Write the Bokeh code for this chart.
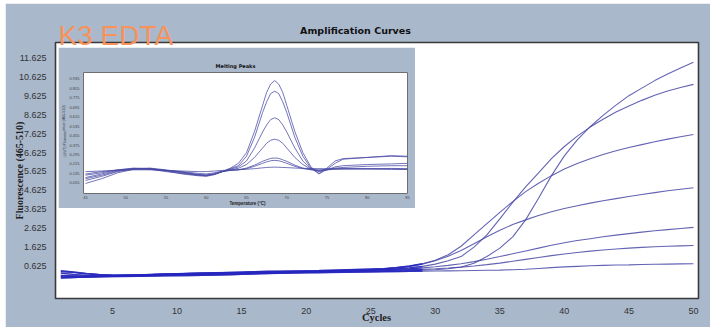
from bokeh.plotting import figure
from bokeh.models import FixedTicker, PrintfTickFormatter, Range1d
from bokeh.embed import file_html
from bokeh.resources import INLINE
from bokeh.core.properties import value

# ---------------- data: amplification curves ----------------
cycles = list(range(1, 51))
curve_a = [0.10, 0.08, 0.05, 0.04, 0.05, 0.07, 0.09, 0.11, 0.13, 0.15,
           0.17, 0.18, 0.19, 0.20, 0.21, 0.22, 0.23, 0.24, 0.25, 0.26,
           0.27, 0.28, 0.29, 0.30, 0.31, 0.32, 0.33, 0.35, 0.37, 0.40,
           0.45, 0.55, 0.75, 1.10, 1.55, 2.15, 3.05, 4.20, 5.40, 6.45,
           7.30, 8.00, 8.60, 9.15, 9.65, 10.05, 10.45, 10.80, 11.12, 11.42]
curve_b = [0.30, 0.25, 0.18, 0.14, 0.12, 0.12, 0.13, 0.15, 0.17, 0.19,
           0.21, 0.22, 0.23, 0.24, 0.25, 0.26, 0.27, 0.28, 0.29, 0.30,
           0.31, 0.32, 0.33, 0.35, 0.37, 0.40, 0.44, 0.50, 0.58, 0.70,
           0.88, 1.10, 1.60, 2.25, 3.10, 3.98, 4.80, 5.55, 6.30, 6.95,
           7.50, 7.98, 8.40, 8.78, 9.10, 9.40, 9.67, 9.90, 10.08, 10.25]
curve_c = [0.22, 0.15, 0.10, 0.08, 0.09, 0.11, 0.13, 0.15, 0.17, 0.19,
           0.20, 0.21, 0.22, 0.23, 0.25, 0.27, 0.28, 0.29, 0.30, 0.31,
           0.32, 0.34, 0.36, 0.38, 0.41, 0.45, 0.52, 0.60, 0.72, 0.90,
           1.20, 1.65, 2.25, 2.85, 3.45, 4.02, 4.55, 5.00, 5.40, 5.75,
           6.05, 6.30, 6.52, 6.72, 6.90, 7.05, 7.20, 7.34, 7.47, 7.59]
curve_d = [-0.05, -0.02, 0.02, 0.05, 0.08, 0.10, 0.12, 0.14, 0.16, 0.18,
           0.20, 0.22, 0.24, 0.26, 0.28, 0.30, 0.32, 0.33, 0.34, 0.35,
           0.36, 0.38, 0.40, 0.42, 0.44, 0.46, 0.50, 0.58, 0.70, 0.88,
           1.12, 1.42, 1.78, 2.15, 2.50, 2.80, 3.05, 3.28, 3.48, 3.65,
           3.80, 3.94, 4.07, 4.18, 4.29, 4.40, 4.50, 4.60, 4.68, 4.76]
curve_e = [0.05, 0.04, 0.04, 0.05, 0.06, 0.08, 0.10, 0.12, 0.13, 0.14,
           0.15, 0.16, 0.17, 0.19, 0.21, 0.23, 0.25, 0.27, 0.29, 0.31,
           0.33, 0.35, 0.37, 0.39, 0.41, 0.42, 0.43, 0.45, 0.50, 0.56,
           0.63, 0.72, 0.83, 0.96, 1.10, 1.25, 1.40, 1.55, 1.70, 1.83,
           1.95, 2.05, 2.15, 2.24, 2.32, 2.40, 2.47, 2.53, 2.59, 2.65]
curve_f = [0.35, 0.28, 0.20, 0.14, 0.10, 0.08, 0.08, 0.09, 0.10, 0.11,
           0.12, 0.13, 0.14, 0.16, 0.18, 0.20, 0.22, 0.24, 0.26, 0.28,
           0.30, 0.31, 0.32, 0.33, 0.34, 0.35, 0.37, 0.40, 0.42, 0.45,
           0.49, 0.54, 0.60, 0.67, 0.75, 0.85, 0.95, 1.05, 1.15, 1.24,
           1.32, 1.39, 1.45, 1.50, 1.55, 1.59, 1.62, 1.65, 1.67, 1.69]
curve_g = [0.00, 0.00, 0.01, 0.02, 0.03, 0.04, 0.05, 0.06, 0.07, 0.08,
           0.09, 0.10, 0.11, 0.13, 0.15, 0.17, 0.19, 0.21, 0.22, 0.23,
           0.24, 0.25, 0.26, 0.27, 0.28, 0.29, 0.30, 0.31, 0.32, 0.33,
           0.34, 0.35, 0.36, 0.37, 0.38, 0.40, 0.43, 0.47, 0.51, 0.55,
           0.58, 0.61, 0.63, 0.65, 0.66, 0.68, 0.69, 0.70, 0.71, 0.72]
cycle_ticks = [5, 10, 15, 20, 25, 30, 35, 40, 45, 50]
fluor_ticks = [0.625, 1.625, 2.625, 3.625, 4.625, 5.625, 6.625, 7.625, 8.625, 9.625, 10.625, 11.625]

# ---------------- data: melting peaks (inset) ----------------
temps = [45, 47, 49, 51, 53, 55, 57, 59, 60, 61, 62, 63, 64, 65, 66, 67, 67.5,
         68, 68.5, 69, 69.5, 70, 71, 72, 73, 74, 75, 76, 77, 80, 83, 85]
peak_1 = [0.05, 0.09, 0.14, 0.17, 0.175, 0.16, 0.14, 0.12, 0.115, 0.125, 0.15, 0.18, 0.22, 0.31, 0.49, 0.71, 0.82,
          0.89, 0.92, 0.89, 0.82, 0.71, 0.49, 0.31, 0.19, 0.135, 0.18, 0.24, 0.26, 0.27, 0.28, 0.275]
peak_2 = [0.075, 0.11, 0.15, 0.175, 0.18, 0.165, 0.145, 0.125, 0.12, 0.13, 0.15, 0.175, 0.20, 0.28, 0.44, 0.65, 0.74,
          0.81, 0.83, 0.81, 0.74, 0.65, 0.44, 0.28, 0.18, 0.13, 0.17, 0.22, 0.255, 0.27, 0.285, 0.28]
peak_3 = [0.10, 0.13, 0.16, 0.175, 0.175, 0.155, 0.13, 0.115, 0.11, 0.125, 0.15, 0.17, 0.19, 0.24, 0.35, 0.485, 0.545,
          0.59, 0.605, 0.59, 0.545, 0.485, 0.35, 0.24, 0.175, 0.15, 0.165, 0.19, 0.20, 0.21, 0.215, 0.22]
peak_4 = [0.12, 0.14, 0.165, 0.18, 0.175, 0.16, 0.145, 0.125, 0.12, 0.13, 0.15, 0.165, 0.178, 0.21, 0.27, 0.35, 0.39,
          0.415, 0.424, 0.415, 0.39, 0.35, 0.27, 0.21, 0.17, 0.155, 0.165, 0.18, 0.185, 0.195, 0.20, 0.20]
peak_5 = [0.09, 0.12, 0.155, 0.17, 0.17, 0.15, 0.135, 0.12, 0.12, 0.13, 0.15, 0.16, 0.166, 0.18, 0.205, 0.237, 0.25,
          0.262, 0.265, 0.262, 0.25, 0.237, 0.205, 0.18, 0.165, 0.16, 0.165, 0.17, 0.172, 0.175, 0.177, 0.175]
peak_6 = [0.13, 0.15, 0.165, 0.175, 0.17, 0.16, 0.15, 0.135, 0.13, 0.14, 0.155, 0.16, 0.165, 0.175, 0.195, 0.22, 0.232,
          0.242, 0.245, 0.242, 0.232, 0.22, 0.195, 0.175, 0.168, 0.165, 0.17, 0.172, 0.173, 0.172, 0.17, 0.168]
peak_7 = [0.15, 0.155, 0.16, 0.165, 0.165, 0.16, 0.155, 0.15, 0.15, 0.155, 0.16, 0.163, 0.166, 0.17, 0.175, 0.182, 0.185,
          0.187, 0.188, 0.187, 0.185, 0.184, 0.18, 0.178, 0.176, 0.175, 0.175, 0.175, 0.176, 0.174, 0.172, 0.17]
temp_ticks = [45, 50, 55, 60, 65, 70, 75, 80, 85]
deriv_ticks = [0.935, 0.855, 0.775, 0.695, 0.615, 0.535, 0.455, 0.375, 0.295, 0.215, 0.135, 0.055]

# ---------------- style ----------------
PANEL = "#aab8cc"
LINE = "#4848a6"
BASE_LINE = "#2626c2"
PAGE_W, PAGE_H = 714, 327

# ---------------- main chart ----------------
p = figure(width=705, height=324, x_range=Range1d(0.585, 50.39), y_range=Range1d(-1.128, 12.475),
           output_backend="svg", toolbar_location=None,
           min_border_left=50, min_border_right=12, min_border_top=39, min_border_bottom=29,
           background_fill_color="white", border_fill_color=PANEL,
           outline_line_color="#3a3a3a", outline_line_width=1.6,
           margin=(3, 4, 0, 5))
p.grid.visible = False
for ax in (p.xaxis[0], p.yaxis[0]):
    ax.axis_line_color = None
    ax.major_tick_line_color = None
    ax.minor_tick_line_color = None
    ax.major_label_standoff = 3
    ax.major_label_text_font = "Liberation Sans"
    ax.major_label_text_font_size = "9px"
    ax.major_label_text_color = "#333333"
p.xaxis.ticker = FixedTicker(ticks=cycle_ticks)
p.yaxis.ticker = FixedTicker(ticks=fluor_ticks)
p.yaxis.formatter = PrintfTickFormatter(format="%.3f")

curves = (curve_g, curve_f, curve_e, curve_d, curve_c, curve_b, curve_a)
for ys in curves:
    p.line(cycles, ys, line_color=LINE, line_width=1.1, line_alpha=0.85)
# the dense, overlapping baseline phase shows as a saturated blue band
for ys in curves:
    p.line(cycles[:29], ys[:29], line_color=BASE_LINE, line_width=1.3, line_alpha=0.75)

# ---------------- inset: melting peaks ----------------
inset = figure(width=357, height=161, x_range=Range1d(44.75, 85.0), y_range=Range1d(-0.035, 0.988),
               output_backend="svg", toolbar_location=None,
               min_border_left=25, min_border_right=8, min_border_top=25, min_border_bottom=15,
               background_fill_color="white", border_fill_color=PANEL,
               outline_line_color="#6e6e6e", outline_line_width=1)
inset.styles = {"position": "absolute", "left": "58px", "top": "47px"}
inset.grid.visible = False
for ax in (inset.xaxis[0], inset.yaxis[0]):
    ax.axis_line_color = None
    ax.major_tick_line_color = None
    ax.minor_tick_line_color = None
    ax.major_label_text_font = "Liberation Sans"
    ax.major_label_text_font_size = "4px"
    ax.major_label_text_color = "#444444"
inset.yaxis.major_label_standoff = -2
inset.xaxis.major_label_standoff = -4
inset.xaxis.ticker = FixedTicker(ticks=temp_ticks)
inset.yaxis.ticker = FixedTicker(ticks=deriv_ticks)
inset.yaxis.formatter = PrintfTickFormatter(format="%.3f")

for ys in (peak_7, peak_6, peak_5, peak_4, peak_3, peak_2, peak_1):
    inset.line(temps, ys, line_color=LINE, line_width=0.9, line_alpha=0.85)

# ---------------- text layer (titles and axis titles, page pixel positions) ----------------
txt = figure(width=PAGE_W, height=PAGE_H, x_range=Range1d(0, PAGE_W), y_range=Range1d(0, PAGE_H),
             output_backend="svg", toolbar_location=None, x_axis_type=None, y_axis_type=None,
             min_border=0, background_fill_alpha=0, border_fill_alpha=0, outline_line_color=None)
txt.grid.visible = False
txt.styles = {"position": "absolute", "left": "0px", "top": "0px", "pointer-events": "none"}


def put(label, px, py, font, size, style="normal", color="#222222", align="center",
        baseline="middle", angle=0.0):
    txt.text(x=[px], y=[PAGE_H - py], text=[label], text_font=value(font), text_font_size=value(size),
             text_font_style=style, text_color=color, text_align=align, text_baseline=baseline,
             angle=angle)


put("K3 EDTA", 58, 35, "Liberation Sans", "28px", color="#f7925a", align="left", baseline="alphabetic")
put("Amplification Curves", 355, 30, "DejaVu Sans", "9.5px", style="bold", color="#111111")
put("Fluorescence (465-510)", 19, 170, "Liberation Serif", "10px", style="bold", angle=1.5708)
put("Cycles", 376, 317, "Liberation Serif", "10.5px", style="bold")
put("Melting Peaks", 235, 65, "DejaVu Sans", "5px", style="bold", color="#111111")
put("Temperature (°C)", 247, 203, "Liberation Sans", "4.5px", style="bold")
put("-(d/dT) Fluorescence (465-510)", 64, 131, "Liberation Sans", "3.8px", color="#333333", angle=1.5708)

open("out.html", "w").write(file_html([p, inset, txt], INLINE))
